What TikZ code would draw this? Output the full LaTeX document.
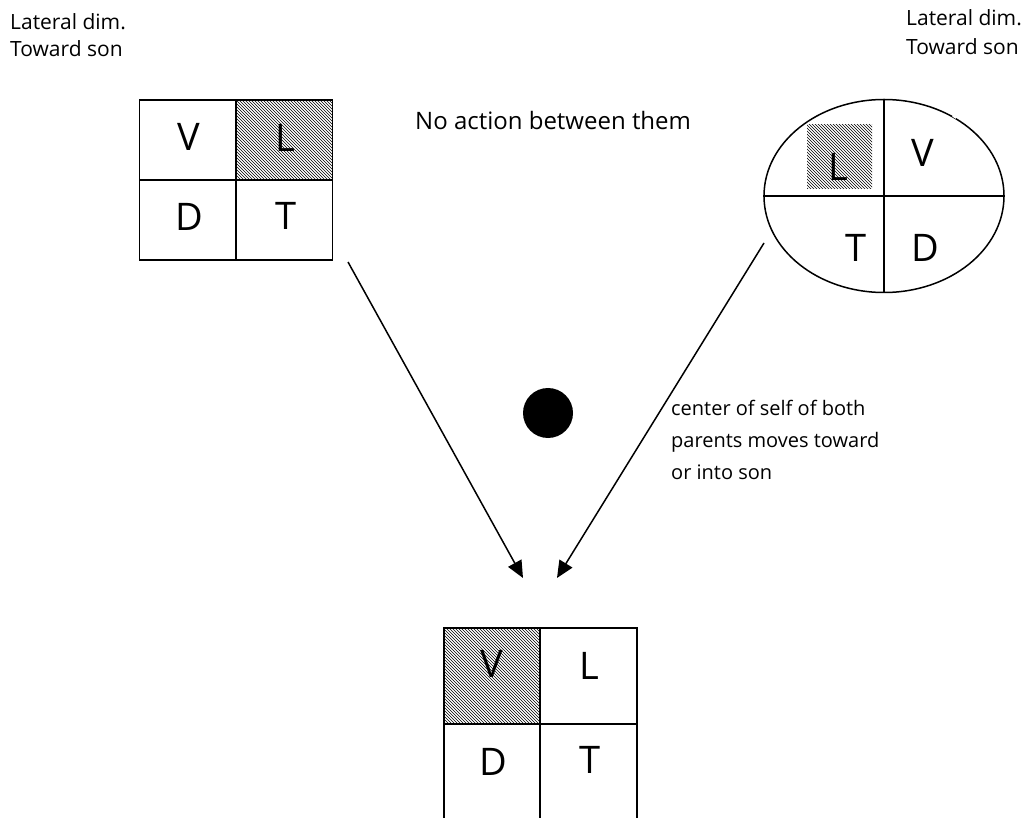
\documentclass[tikz,border=0pt]{standalone}
\usepackage{fontspec}
\setmainfont{Open Sans}
\usetikzlibrary{arrows.meta,patterns,shapes.geometric}
\begin{document}
\begin{tikzpicture}[x=1pt,y=-1pt,
  cell/.style={draw, line width=1.9pt, minimum width=96.5pt, minimum height=80pt, inner sep=0pt},
  shaded/.style={pattern=north west lines, pattern color=black},
  letter/.style={font=\fontsize{38}{38}\selectfont, inner sep=0pt},
  lbl/.style={font=\fontsize{21}{21}\selectfont, inner sep=0pt, anchor=base west},
  note/.style={font=\fontsize{20}{20}\selectfont, inner sep=0pt, anchor=base west},
  conn/.style={line width=1.5pt, -{Triangle[length=17pt,width=15pt]}}]
\useasboundingbox (0,0) rectangle (1026,818);
\clip (0,0) rectangle (1026,818);

% left grid
\node[cell] (a1) at (187.75,140) {};
\node[cell, shaded] (a2) at (284.25,140) {};
\node[cell] (a3) at (187.75,220) {};
\node[cell] (a4) at (284.25,220) {};
\node[letter] (aV) at (189,137) {V};
\node[letter] (aL) at (285,138) {L};
\node[letter] (aD) at (189,217) {D};
\node[letter] (aT) at (286,216) {T};

% ellipse
\node[draw, ellipse, line width=1.5pt, minimum width=240pt, minimum height=193pt, inner sep=0pt] (e) at (884,196) {};
\draw[line width=1.5pt] (e.north) -- (e.south);
\draw[line width=1.5pt] (e.west) -- (e.east);
\node[shaded, minimum width=65pt, minimum height=64pt, inner sep=0pt] (eS) at (839.5,157) {};
\draw[white, line width=3pt] (953,115.3) -- (956.5,117.5);
\node[letter] (eL) at (838,167) {L};
\node[letter] (eV) at (923,153) {V};
\node[letter] (eT) at (856,248) {T};
\node[letter] (eD) at (925,248) {D};

% bottom grid
\node[cell, minimum height=96pt, shaded] (b1) at (492,676) {};
\node[cell, minimum height=96pt] (b2) at (588.5,676) {};
\node[cell, minimum height=96pt] (b3) at (492,772) {};
\node[cell, minimum height=96pt] (b4) at (588.5,772) {};
\node[letter] (bV) at (492,664) {V};
\node[letter] (bL) at (589,666) {L};
\node[letter] (bD) at (493,762) {D};
\node[letter] (bT) at (590,760) {T};

% dot
\node[circle, fill=black, minimum size=50pt, inner sep=0pt] (dot) at (548,413) {};

% arrows
\coordinate (s1) at (348,262);
\coordinate (t1) at (523,578);
\coordinate (s2) at (764,243);
\coordinate (t2) at (557,578);
\draw[conn] (s1) -- (t1);
\draw[conn] (s2) -- (t2);

% texts
\node[lbl] (tl1) at (10,30) {Lateral dim.};
\node[lbl] (tl2) at (10,57) {Toward son};
\node[lbl] (tr1) at (906,26) {Lateral dim.};
\node[lbl] (tr2) at (906,55) {Toward son};
\node[lbl, font=\fontsize{24}{24}\selectfont] (na) at (415,130) {No action between them};
\node[note] (c1) at (671,415) {center of self of both};
\node[note] (c2) at (671,447) {parents moves toward};
\node[note] (c3) at (671,479) {or into son};
\end{tikzpicture}
\end{document}
